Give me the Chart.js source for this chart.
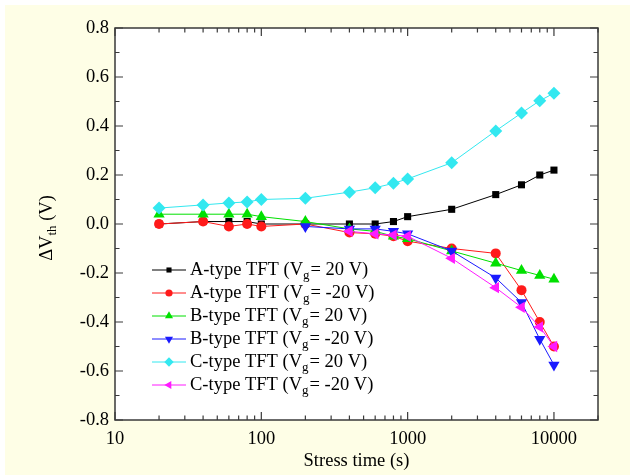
<!DOCTYPE html>
<html lang="en">

<head>
    <meta charset="UTF-8" />
    <title>Threshold voltage shift</title>
    <script src="https://cdn.jsdelivr.net/npm/chart.js@4.4.0/dist/chart.umd.min.js"></script>
    <style>
        body { margin: 0; background: #ffffff; }
        #hola { width: 630px; height: 475px; }
    </style>
</head>

<body>
    <div id="hola">
        <canvas id="myChart" width="630" height="475"></canvas>
    </div>
</body>
<script>
// stress times (s)
var tiempoLargo = [20, 40, 60, 80, 100, 200, 400, 600, 800, 1000, 2000, 4000, 6000, 8000, 10000];
var tiempoB = [200, 400, 600, 800, 1000, 2000, 4000, 6000, 8000, 10000];
var tiempoC = [400, 600, 800, 1000, 2000, 4000, 6000, 8000, 10000];

// delta Vth (V)
var aPos = [0, 0.01, 0.01, 0.01, 0, 0, 0, 0, 0.01, 0.03, 0.06, 0.12, 0.16, 0.2, 0.22];
var aNeg = [0, 0.01, -0.01, 0, -0.01, 0, -0.035, -0.04, -0.05, -0.07, -0.1, -0.12, -0.27, -0.4, -0.5];
var bPos = [0.04, 0.04, 0.04, 0.04, 0.03, 0.01, -0.02, -0.03, -0.05, -0.06, -0.11, -0.16, -0.19, -0.21, -0.225];
var bNeg = [-0.01, -0.02, -0.02, -0.03, -0.04, -0.11, -0.22, -0.32, -0.47, -0.575];
var cPos = [0.065, 0.078, 0.086, 0.09, 0.1, 0.105, 0.13, 0.148, 0.166, 0.184, 0.25, 0.38, 0.453, 0.503, 0.534];
var cNeg = [-0.03, -0.04, -0.045, -0.05, -0.14, -0.26, -0.34, -0.42, -0.5];

var etiquetasX = [10, 100, 1000, 10000];
var etiquetasY = [-0.8, -0.6, -0.4, -0.2, 0, 0.2, 0.4, 0.6, 0.8];

var nombres = [
    ['A-type TFT (V', 'g', '= 20 V)'],
    ['A-type TFT (V', 'g', '= -20 V)'],
    ['B-type TFT (V', 'g', '= 20 V)'],
    ['B-type TFT (V', 'g', '= -20 V)'],
    ['C-type TFT (V', 'g', '= 20 V)'],
    ['C-type TFT (V', 'g', '= -20 V)']
];

var fuente = '"Liberation Serif", "Times New Roman", serif';
var talla = 18.5;
var tallaSub = 13;

function puntos(xs, ys) {
    var out = [];
    for (var i = 0; i < xs.length; i++) {
        out.push({ x: xs[i], y: ys[i] });
    }
    return out;
}

function serie(xs, ys, color, estilo, radio, giro, orden) {
    return {
        data: puntos(xs, ys),
        showLine: true,
        borderColor: color,
        backgroundColor: color,
        borderWidth: 1,
        pointStyle: estilo,
        pointRadius: radio,
        pointRotation: giro,
        pointBorderWidth: 0,
        pointBorderColor: color,
        order: orden
    };
}

var datasets = [
    serie(tiempoLargo, aPos, '#000000', 'rect', 5, 0, 6),
    serie(tiempoLargo, aNeg, '#ff1a1a', 'circle', 5, 0, 5),
    serie(tiempoLargo, bPos, '#00e000', 'triangle', 6.5, 0, 4),
    serie(tiempoB, bNeg, '#1a1aff', 'triangle', 6.5, 180, 3),
    serie(tiempoLargo, cPos, '#33e8f0', 'rectRot', 6.5, 0, 2),
    serie(tiempoC, cNeg, '#ff1aff', 'triangle', 6.5, -90, 1)
];

// background, frame, inward ticks, axis titles and the legend box
var marco = {
    id: 'marco',
    beforeDraw: function (chart) {
        var c = chart.ctx;
        c.save();
        c.fillStyle = '#ffffff';
        c.fillRect(0, 0, chart.width, chart.height);
        c.fillStyle = '#fefee6';
        c.fillRect(5, 5, chart.width - 5, chart.height - 5);
        var a = chart.chartArea;
        c.fillStyle = '#ffffff';
        c.fillRect(a.left, a.top, a.right - a.left, a.bottom - a.top);
        c.restore();
    },
    afterDraw: function (chart) {
        var c = chart.ctx;
        var a = chart.chartArea;
        var sx = chart.scales.x;
        var sy = chart.scales.y;
        c.save();
        c.strokeStyle = '#3a3a3a';
        c.lineWidth = 1.5;
        c.strokeRect(a.left, a.top, a.right - a.left, a.bottom - a.top);

        // x ticks, log decades with 2..9 minors
        c.lineWidth = 1.2;
        for (var d = 10; d <= 10000; d *= 10) {
            for (var k = 1; k <= 9; k++) {
                var v = d * k;
                if (v > 20000) continue;
                var px = sx.getPixelForValue(v);
                var largo = k == 1 ? 8 : 4.5;
                c.beginPath();
                c.moveTo(px, a.bottom);
                c.lineTo(px, a.bottom - largo);
                c.moveTo(px, a.top);
                c.lineTo(px, a.top + largo);
                c.stroke();
            }
        }
        // y ticks every 0.1, major every 0.2
        for (var j = -8; j <= 8; j++) {
            var py = sy.getPixelForValue(j / 10);
            var l = (j % 2 == 0) ? 8 : 4.5;
            c.beginPath();
            c.moveTo(a.left, py);
            c.lineTo(a.left + l, py);
            c.moveTo(a.right, py);
            c.lineTo(a.right - l, py);
            c.stroke();
        }

        // axis titles
        c.fillStyle = '#000000';
        c.font = talla + 'px ' + fuente;
        c.textAlign = 'center';
        c.textBaseline = 'alphabetic';
        c.fillText('Stress time (s)', (a.left + a.right) / 2, 466);

        c.translate(52, 228);
        c.rotate(-Math.PI / 2);
        c.textAlign = 'left';
        var t1 = '\u0394V';
        var t2 = 'th';
        var t3 = ' (V)';
        c.font = talla + 'px ' + fuente;
        var w1 = c.measureText(t1).width;
        var w3 = c.measureText(t3).width;
        c.font = tallaSub + 'px ' + fuente;
        var w2 = c.measureText(t2).width;
        var x0 = -(w1 + w2 + w3) / 2;
        c.font = talla + 'px ' + fuente;
        c.fillText(t1, x0, 0);
        c.font = tallaSub + 'px ' + fuente;
        c.fillText(t2, x0 + w1, 4);
        c.font = talla + 'px ' + fuente;
        c.fillText(t3, x0 + w1 + w2, 0);
        c.restore();

        // legend
        c.save();
        var y0 = 270;
        for (var i = 0; i < datasets.length; i++) {
            var ds = datasets[i];
            var y = y0 + i * 23;
            c.strokeStyle = ds.borderColor;
            c.lineWidth = 1;
            c.beginPath();
            c.moveTo(152, y);
            c.lineTo(186, y);
            c.stroke();
            c.fillStyle = ds.backgroundColor;
            Chart.helpers.drawPoint(c, {
                pointStyle: ds.pointStyle,
                radius: ds.pointRadius * 0.72,
                rotation: ds.pointRotation,
                borderWidth: 0
            }, 169, y);
            c.fillStyle = '#000000';
            c.textAlign = 'left';
            c.textBaseline = 'middle';
            c.font = talla + 'px ' + fuente;
            var n = nombres[i];
            var xx = 190;
            c.fillText(n[0], xx, y);
            xx += c.measureText(n[0]).width;
            c.font = tallaSub + 'px ' + fuente;
            c.fillText(n[1], xx, y + 6);
            xx += c.measureText(n[1]).width + 1;
            c.font = talla + 'px ' + fuente;
            c.fillText(n[2], xx, y);
        }
        c.restore();
    }
};

var ctx = document.getElementById('myChart').getContext('2d');
var myChart = new Chart(ctx, {
    type: 'scatter',
    data: { datasets: datasets },
    options: {
        responsive: false,
        animation: false,
        layout: { padding: { top: 28, right: 32, left: 0, bottom: 0 } },
        plugins: {
            legend: { display: false },
            tooltip: { enabled: false }
        },
        scales: {
            x: {
                type: 'logarithmic',
                min: 10,
                max: 20000,
                grid: { display: false, drawTicks: false },
                border: { display: false },
                afterBuildTicks: function (scale) {
                    scale.ticks = etiquetasX.map(function (v) { return { value: v }; });
                },
                afterFit: function (scale) { scale.height = 55; },
                ticks: {
                    padding: 8,
                    color: '#000000',
                    font: { family: fuente, size: talla },
                    maxRotation: 0,
                    autoSkip: false,
                    callback: function (v) { return String(v); }
                }
            },
            y: {
                min: -0.8,
                max: 0.8,
                grid: { display: false, drawTicks: false },
                border: { display: false },
                afterBuildTicks: function (scale) {
                    scale.ticks = etiquetasY.map(function (v) { return { value: v }; });
                },
                afterFit: function (scale) { scale.width = 115; },
                ticks: {
                    padding: 6,
                    color: '#000000',
                    font: { family: fuente, size: talla },
                    callback: function (v) { return Number(v).toFixed(1); }
                }
            }
        }
    },
    plugins: [marco]
});
</script>

</html>
